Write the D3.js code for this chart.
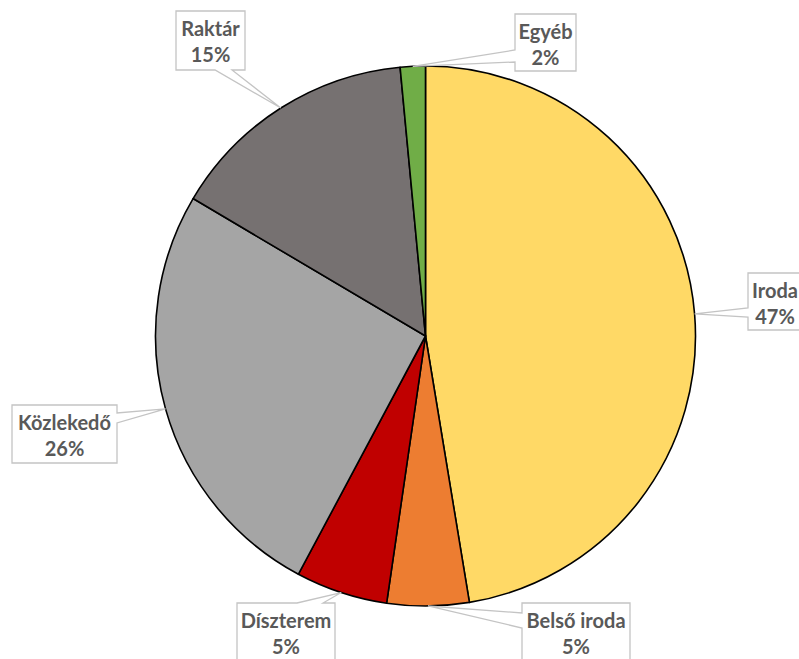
<!DOCTYPE html>
<html>
<head>
<meta charset="utf-8">
<script src="https://cdn.jsdelivr.net/npm/d3@7"></script>
<style>
  html, body { margin: 0; padding: 0; background: #fff; }
  svg { display: block; }
</style>
</head>
<body>
<svg id="chart" width="799" height="659"></svg>
<script>
// ---- data ----
const categories = ["Iroda", "Belső iroda", "Díszterem", "Közlekedő", "Raktár", "Egyéb"];
const values = [47.4, 4.9, 5.5, 25.7, 15.0, 1.5];
const percentLabels = ["47%", "5%", "5%", "26%", "15%", "2%"];
const colors = ["#FFD966", "#ED7D31", "#C00000", "#A5A5A5", "#767171", "#70AD47"];

// ---- layout for callout boxes (x, y, w, h, pointer side, pointer base from/to) ----
const boxLayout = [
  { x: 748, y: 273, w: 58, h: 57, side: "left",   b1: 308, b2: 317, tx: 775 },
  { x: 522, y: 603, w: 108, h: 60, side: "left",  b1: 613, b2: 628 },
  { x: 237, y: 603, w: 98, h: 60, side: "top",    b1: 297, b2: 323 },
  { x: 12,  y: 405, w: 105, h: 58, side: "right", b1: 413, b2: 423 },
  { x: 176, y: 11,  w: 69, h: 59, side: "bottom", b1: 215, b2: 232 },
  { x: 515, y: 14,  w: 61, h: 57, side: "left",   b1: 50,  b2: 62 }
];

const svg = d3.select("#chart");
const cx = 425.5, cy = 336, r = 270;

const data = categories.map((c, i) => ({ name: c, value: values[i], pct: percentLabels[i], color: colors[i], box: boxLayout[i] }));

const pie = d3.pie().value(d => d.value).sort(null).startAngle(0).endAngle(2 * Math.PI);
const arcs = pie(data);
const arc = d3.arc().innerRadius(0).outerRadius(r);

const g = svg.append("g").attr("transform", `translate(${cx},${cy})`);
g.selectAll("path.slice")
  .data(arcs)
  .join("path")
  .attr("class", "slice")
  .attr("d", arc)
  .attr("fill", d => d.data.color)
  .attr("stroke", "#000")
  .attr("stroke-width", 1.6)
  .attr("stroke-linejoin", "round");

// callouts
function calloutPoints(b, tip) {
  const L = b.x, T = b.y, R = b.x + b.w, B = b.y + b.h;
  const pts = [];
  pts.push([L, T]);
  if (b.side === "top") { pts.push([b.b1, T], tip, [b.b2, T]); }
  pts.push([R, T]);
  if (b.side === "right") { pts.push([R, b.b1], tip, [R, b.b2]); }
  pts.push([R, B]);
  if (b.side === "bottom") { pts.push([b.b2, B], tip, [b.b1, B]); }
  pts.push([L, B]);
  if (b.side === "left") { pts.push([L, b.b2], tip, [L, b.b1]); }
  return pts;
}

const labels = svg.append("g");
arcs.forEach(a => {
  const mid = (a.startAngle + a.endAngle) / 2;
  const tip = [cx + r * Math.sin(mid), cy - r * Math.cos(mid)];
  const b = a.data.box;
  const pts = calloutPoints(b, tip);
  labels.append("path")
    .attr("d", d3.line()(pts) + "Z")
    .attr("fill", "#fff")
    .attr("stroke", "#C4C4C4")
    .attr("stroke-width", 1.3)
    .attr("stroke-linejoin", "miter");
  const tx = b.tx !== undefined ? b.tx : b.x + b.w / 2;
  const t = labels.append("text")
    .attr("x", tx)
    .attr("text-anchor", "middle")
    .attr("font-family", "Lato, 'Open Sans', sans-serif")
    .attr("font-weight", "bold")
    .attr("font-size", 20)
    .attr("fill", "#595959");
  t.append("tspan").attr("x", tx).attr("y", b.y + 25).text(a.data.name);
  t.append("tspan").attr("x", tx).attr("y", b.y + 51).text(a.data.pct);
});
</script>
</body>
</html>
